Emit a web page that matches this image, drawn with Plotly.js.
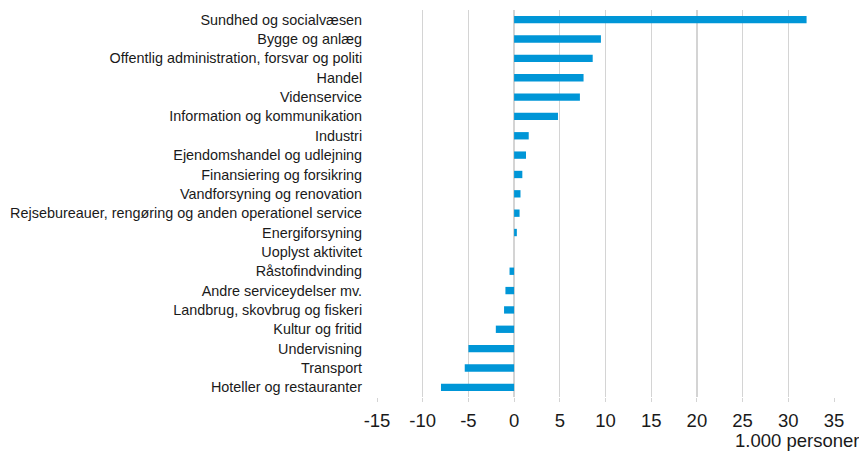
<!DOCTYPE html>
<html>
<head>
<meta charset="utf-8">
<script src="https://cdn.plot.ly/plotly-3.0.1.min.js"></script>
<style>html,body{margin:0;padding:0;background:#fff;}#chart{width:859px;height:456px;}</style>
</head>
<body>
<div id="chart"></div>
<script>
const categories = [
  "Sundhed og socialvæsen",
  "Bygge og anlæg",
  "Offentlig administration, forsvar og politi",
  "Handel",
  "Videnservice",
  "Information og kommunikation",
  "Industri",
  "Ejendomshandel og udlejning",
  "Finansiering og forsikring",
  "Vandforsyning og renovation",
  "Rejsebureauer, rengøring og anden operationel service",
  "Energiforsyning",
  "Uoplyst aktivitet",
  "Råstofindvinding",
  "Andre serviceydelser mv.",
  "Landbrug, skovbrug og fiskeri",
  "Kultur og fritid",
  "Undervisning",
  "Transport",
  "Hoteller og restauranter"
];
const values = [32.0, 9.5, 8.6, 7.6, 7.2, 4.8, 1.6, 1.3, 0.9, 0.7, 0.6, 0.3, 0.0, -0.5, -0.95, -1.1, -2.0, -5.0, -5.4, -8.0];
const xTicks = [-15, -10, -5, 0, 5, 10, 15, 20, 25, 30, 35];
const xTitle = "1.000 personer";

const trace = {
  type: 'bar',
  orientation: 'h',
  y: categories,
  x: values,
  width: 0.38,
  marker: {color: '#0096D7'},
  hoverinfo: 'x+y'
};

const layout = {
  width: 859,
  height: 456,
  margin: {l: 377, r: 24.7, t: 10, b: 59},
  paper_bgcolor: '#ffffff',
  plot_bgcolor: '#ffffff',
  showlegend: false,
  font: {family: 'Liberation Sans, Arial, sans-serif', color: '#1a1a1a'},
  xaxis: {
    range: [-15, 35],
    tickvals: xTicks,
    ticktext: xTicks.map(String),
    showgrid: true,
    gridcolor: '#d4d4d4',
    gridwidth: 1.4,
    zeroline: false,
    showline: false,
    ticks: 'outside',
    ticklen: 4,
    tickcolor: '#d4d4d4',
    ticklabelstandoff: 3,
    tickfont: {size: 18.5, color: '#1a1a1a'},
    fixedrange: true
  },
  yaxis: {
    autorange: 'reversed',
    type: 'category',
    showgrid: false,
    zeroline: false,
    showline: false,
    ticks: 'outside',
    ticklen: 11,
    tickcolor: 'rgba(0,0,0,0)',
    tickfont: {size: 14.4, color: '#1a1a1a'},
    fixedrange: true
  },
  annotations: [{
    text: xTitle,
    xref: 'paper', yref: 'paper',
    x: 1.057, y: -0.112,
    xanchor: 'right', yanchor: 'middle',
    borderpad: 0,
    showarrow: false,
    font: {size: 18.5, color: '#1a1a1a'}
  }]
};

Plotly.newPlot('chart', [trace], layout, {displayModeBar: false, staticPlot: true});
</script>
</body>
</html>
